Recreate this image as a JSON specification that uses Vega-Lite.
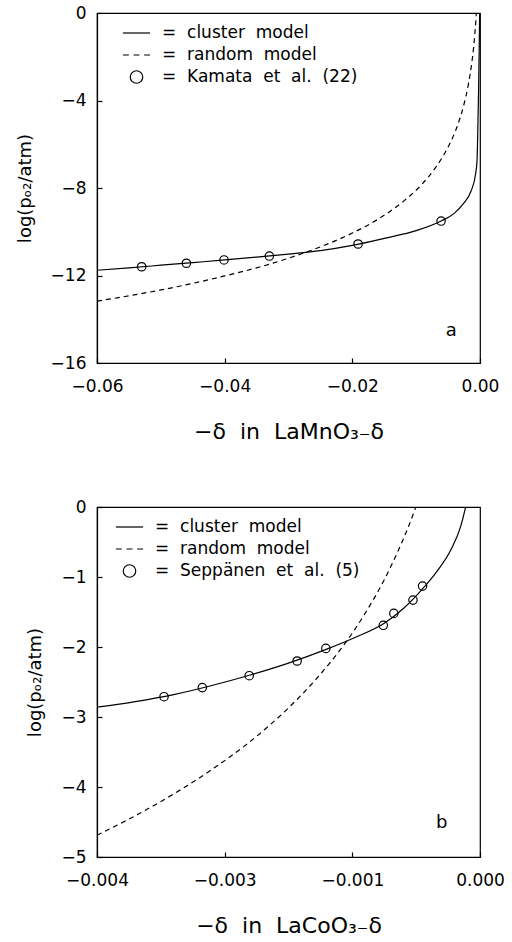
{
  "$schema": "https://vega.github.io/schema/vega-lite/v6.json",
  "background": "white",
  "padding": {"left": 15, "top": 3, "right": 4, "bottom": 4},
  "spacing": 54,
  "datasets": {
    "la_cluster": [
      {"delta": -0.060, "logp": -11.76}, {"delta": -0.055, "logp": -11.65}, {"delta": -0.050, "logp": -11.53},
      {"delta": -0.045, "logp": -11.41}, {"delta": -0.040, "logp": -11.29}, {"delta": -0.035, "logp": -11.16},
      {"delta": -0.030, "logp": -11.02}, {"delta": -0.025, "logp": -10.86}, {"delta": -0.020, "logp": -10.62},
      {"delta": -0.015, "logp": -10.30}, {"delta": -0.010, "logp": -9.95}, {"delta": -0.006, "logp": -9.50},
      {"delta": -0.004, "logp": -9.15}, {"delta": -0.0027, "logp": -8.75}, {"delta": -0.0014, "logp": -8.14},
      {"delta": -0.0007, "logp": -7.37}, {"delta": -0.00047, "logp": -6.77}, {"delta": -0.00035, "logp": -5.5},
      {"delta": -0.00022, "logp": -3.5}, {"delta": -0.00012, "logp": -1.5}, {"delta": -0.00005, "logp": 0}
    ],
    "la_random": [
      {"delta": -0.060, "logp": -13.17}, {"delta": -0.055, "logp": -12.93}, {"delta": -0.050, "logp": -12.66},
      {"delta": -0.045, "logp": -12.36}, {"delta": -0.040, "logp": -12.02}, {"delta": -0.035, "logp": -11.65},
      {"delta": -0.030, "logp": -11.21}, {"delta": -0.025, "logp": -10.69}, {"delta": -0.020, "logp": -10.06},
      {"delta": -0.016, "logp": -9.43}, {"delta": -0.012, "logp": -8.61}, {"delta": -0.009, "logp": -7.80},
      {"delta": -0.007, "logp": -7.08}, {"delta": -0.005, "logp": -6.13}, {"delta": -0.0035, "logp": -5.12},
      {"delta": -0.0025, "logp": -4.16}, {"delta": -0.0018, "logp": -3.23}, {"delta": -0.0013, "logp": -2.31},
      {"delta": -0.0010, "logp": -1.57}, {"delta": -0.0008, "logp": -0.93}, {"delta": -0.0006, "logp": -0.12},
      {"delta": -0.00058, "logp": 0}
    ],
    "la_kamata": [
      {"delta": -0.0530, "logp": -11.60, "series": "Kamata\u00a0\u00a0et\u00a0\u00a0al.\u00a0\u00a0(22)"},
      {"delta": -0.0460, "logp": -11.44, "series": "Kamata\u00a0\u00a0et\u00a0\u00a0al.\u00a0\u00a0(22)"},
      {"delta": -0.0401, "logp": -11.29, "series": "Kamata\u00a0\u00a0et\u00a0\u00a0al.\u00a0\u00a0(22)"},
      {"delta": -0.0330, "logp": -11.11, "series": "Kamata\u00a0\u00a0et\u00a0\u00a0al.\u00a0\u00a0(22)"},
      {"delta": -0.0191, "logp": -10.56, "series": "Kamata\u00a0\u00a0et\u00a0\u00a0al.\u00a0\u00a0(22)"},
      {"delta": -0.0061, "logp": -9.51, "series": "Kamata\u00a0\u00a0et\u00a0\u00a0al.\u00a0\u00a0(22)"}
    ],
    "lc_cluster": [
      {"delta": -0.0040, "logp": -2.86}, {"delta": -0.0036, "logp": -2.78}, {"delta": -0.0032, "logp": -2.68},
      {"delta": -0.0028, "logp": -2.55}, {"delta": -0.0024, "logp": -2.40}, {"delta": -0.0020, "logp": -2.23},
      {"delta": -0.0016, "logp": -2.03}, {"delta": -0.0013, "logp": -1.86}, {"delta": -0.0010, "logp": -1.66},
      {"delta": -0.0008, "logp": -1.45}, {"delta": -0.0006, "logp": -1.17}, {"delta": -0.00045, "logp": -0.92},
      {"delta": -0.0003, "logp": -0.60}, {"delta": -0.0002, "logp": -0.27}, {"delta": -0.00015, "logp": 0}
    ],
    "lc_random": [
      {"delta": -0.0040, "logp": -4.69}, {"delta": -0.0036, "logp": -4.41}, {"delta": -0.0032, "logp": -4.10},
      {"delta": -0.0028, "logp": -3.75}, {"delta": -0.0024, "logp": -3.35}, {"delta": -0.0020, "logp": -2.87},
      {"delta": -0.0017, "logp": -2.44}, {"delta": -0.0014, "logp": -1.93}, {"delta": -0.0012, "logp": -1.52},
      {"delta": -0.0010, "logp": -1.04}, {"delta": -0.00085, "logp": -0.61}, {"delta": -0.00075, "logp": -0.29},
      {"delta": -0.00067, "logp": 0}
    ],
    "lc_seppanen": [
      {"delta": -0.00330, "logp": -2.71, "series": "Seppänen\u00a0\u00a0et\u00a0\u00a0al.\u00a0\u00a0(5)"},
      {"delta": -0.00290, "logp": -2.58, "series": "Seppänen\u00a0\u00a0et\u00a0\u00a0al.\u00a0\u00a0(5)"},
      {"delta": -0.00241, "logp": -2.41, "series": "Seppänen\u00a0\u00a0et\u00a0\u00a0al.\u00a0\u00a0(5)"},
      {"delta": -0.00191, "logp": -2.20, "series": "Seppänen\u00a0\u00a0et\u00a0\u00a0al.\u00a0\u00a0(5)"},
      {"delta": -0.00161, "logp": -2.02, "series": "Seppänen\u00a0\u00a0et\u00a0\u00a0al.\u00a0\u00a0(5)"},
      {"delta": -0.00101, "logp": -1.69, "series": "Seppänen\u00a0\u00a0et\u00a0\u00a0al.\u00a0\u00a0(5)"},
      {"delta": -0.00090, "logp": -1.52, "series": "Seppänen\u00a0\u00a0et\u00a0\u00a0al.\u00a0\u00a0(5)"},
      {"delta": -0.00070, "logp": -1.33, "series": "Seppänen\u00a0\u00a0et\u00a0\u00a0al.\u00a0\u00a0(5)"},
      {"delta": -0.00060, "logp": -1.13, "series": "Seppänen\u00a0\u00a0et\u00a0\u00a0al.\u00a0\u00a0(5)"}
    ],
    "la_tag": [{"tag": "a", "delta": -0.0045, "logp": -14.54}],
    "lc_tag": [{"tag": "b", "delta": -0.0004, "logp": -4.52}]
  },
  "config": {
    "font": "DejaVu Sans",
    "view": {"stroke": "black", "strokeWidth": 1.2},
    "axis": {
      "grid": false, "domainColor": "black", "domainWidth": 1.2,
      "tickColor": "black", "tickWidth": 1.2, "tickSize": -5, "labelFlush": false,
      "labelFont": "DejaVu Sans", "labelFontSize": 17, "labelColor": "black",
      "titleFont": "DejaVu Sans", "titleColor": "black", "titleFontWeight": "normal"
    },
    "axisX": {"labelPadding": 20, "titleFontSize": 22, "titlePadding": 27},
    "axisY": {"labelPadding": 16, "titleFontSize": 18, "titlePadding": 16},
    "legend": {
      "title": null, "orient": "none", "padding": 0,
      "symbolSize": 289, "symbolStrokeWidth": 1.2, "symbolStrokeColor": "black", "symbolFillColor": "transparent",
      "labelFont": "DejaVu Sans", "labelFontSize": 17, "labelColor": "black", "labelOffset": 16, "labelLimit": 400,
      "rowPadding": 4
    }
  },
  "resolve": {"scale": {"shape": "independent"}, "legend": {"shape": "independent"}},
  "vconcat": [
    {
      "width": 383,
      "height": 350,
      "layer": [
        {
          "data": {"name": "la_random"},
          "mark": {"type": "line", "color": "black", "strokeWidth": 1.2, "strokeDash": [5, 4], "interpolate": "monotone", "clip": true},
          "encoding": {
            "x": {"field": "delta", "type": "quantitative", "scale": {"domain": [-0.06, 0], "nice": false, "zero": false},
                  "axis": {"values": [-0.06, -0.04, -0.02, 0], "format": ".2f", "title": "−δ\u00a0\u00a0in\u00a0\u00a0LaMnO₃₋δ"}},
            "y": {"field": "logp", "type": "quantitative", "scale": {"domain": [-16, 0], "nice": false, "zero": false},
                  "axis": {"values": [0, -4, -8, -12, -16], "format": "d", "title": "log(pₒ₂/atm)"}}
          }
        },
        {
          "data": {"name": "la_cluster"},
          "mark": {"type": "line", "color": "black", "strokeWidth": 1.2, "interpolate": "monotone", "clip": true},
          "encoding": {
            "x": {"field": "delta", "type": "quantitative"},
            "y": {"field": "logp", "type": "quantitative"}
          }
        },
        {
          "data": {"name": "la_kamata"},
          "mark": {"type": "point", "filled": false, "stroke": "black", "strokeWidth": 1.2, "size": 131, "opacity": 1},
          "encoding": {
            "x": {"field": "delta", "type": "quantitative"},
            "y": {"field": "logp", "type": "quantitative"},
            "shape": {
              "field": "series", "type": "nominal",
              "scale": {
                "domain": ["cluster\u00a0\u00a0model", "random\u00a0\u00a0model", "Kamata\u00a0\u00a0et\u00a0\u00a0al.\u00a0\u00a0(22)"],
                "range": ["M-1.6,0H1.6", "M-1.6,0H-0.9M-0.35,0H0.35M0.9,0H1.6", "M-0.735,0A0.735,0.735,0,1,1,0.735,0A0.735,0.735,0,1,1,-0.735,0Z"]
              },
              "legend": {"legendX": 30, "legendY": 10.5, "labelExpr": "'=\u00a0\u00a0' + datum.label"}
            }
          }
        },
        {
          "data": {"name": "la_tag"},
          "mark": {"type": "text", "font": "DejaVu Sans", "fontSize": 18, "color": "black"},
          "encoding": {
            "x": {"field": "delta", "type": "quantitative"},
            "y": {"field": "logp", "type": "quantitative"},
            "text": {"field": "tag"}
          }
        }
      ]
    },
    {
      "width": 383,
      "height": 350,
      "layer": [
        {
          "data": {"name": "lc_random"},
          "mark": {"type": "line", "color": "black", "strokeWidth": 1.2, "strokeDash": [5, 4], "interpolate": "monotone", "clip": true},
          "encoding": {
            "x": {"field": "delta", "type": "quantitative", "scale": {"domain": [-0.004, 0], "nice": false, "zero": false},
                  "axis": {"values": [-0.004, -0.0026667, -0.0013333, 0], "format": ".3f", "title": "−δ\u00a0\u00a0in\u00a0\u00a0LaCoO₃₋δ"}},
            "y": {"field": "logp", "type": "quantitative", "scale": {"domain": [-5, 0], "nice": false, "zero": false},
                  "axis": {"values": [0, -1, -2, -3, -4, -5], "format": "d", "title": "log(pₒ₂/atm)"}}
          }
        },
        {
          "data": {"name": "lc_cluster"},
          "mark": {"type": "line", "color": "black", "strokeWidth": 1.2, "interpolate": "monotone", "clip": true},
          "encoding": {
            "x": {"field": "delta", "type": "quantitative"},
            "y": {"field": "logp", "type": "quantitative"}
          }
        },
        {
          "data": {"name": "lc_seppanen"},
          "mark": {"type": "point", "filled": false, "stroke": "black", "strokeWidth": 1.2, "size": 131, "opacity": 1},
          "encoding": {
            "x": {"field": "delta", "type": "quantitative"},
            "y": {"field": "logp", "type": "quantitative"},
            "shape": {
              "field": "series", "type": "nominal",
              "scale": {
                "domain": ["cluster\u00a0\u00a0model", "random\u00a0\u00a0model", "Seppänen\u00a0\u00a0et\u00a0\u00a0al.\u00a0\u00a0(5)"],
                "range": ["M-1.6,0H1.6", "M-1.6,0H-0.9M-0.35,0H0.35M0.9,0H1.6", "M-0.735,0A0.735,0.735,0,1,1,0.735,0A0.735,0.735,0,1,1,-0.735,0Z"]
              },
              "legend": {"legendX": 23, "legendY": 10.5, "labelExpr": "'=\u00a0\u00a0' + datum.label"}
            }
          }
        },
        {
          "data": {"name": "lc_tag"},
          "mark": {"type": "text", "font": "DejaVu Sans", "fontSize": 18, "color": "black"},
          "encoding": {
            "x": {"field": "delta", "type": "quantitative"},
            "y": {"field": "logp", "type": "quantitative"},
            "text": {"field": "tag"}
          }
        }
      ]
    }
  ]
}
